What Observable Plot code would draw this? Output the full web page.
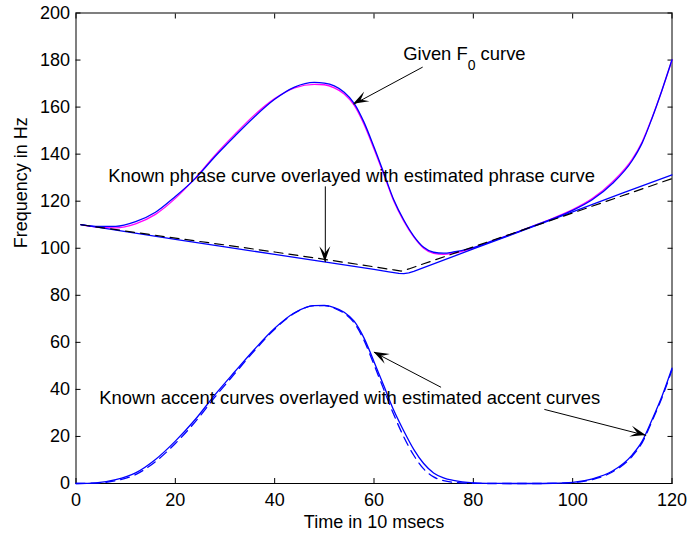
<!DOCTYPE html>
<html>
<head>
<meta charset="utf-8">
<script src="https://cdn.jsdelivr.net/npm/d3@7"></script>
<script src="https://cdn.jsdelivr.net/npm/@observablehq/plot@0.6"></script>
<style>
  html, body { margin: 0; padding: 0; background: #fff; }
</style>
</head>
<body>
<div id="chart"></div>
<script>
// Time axis samples (units of 10 ms)
const f0Time = [1, 4, 8, 12, 16, 20, 24, 28, 32, 36, 40, 44, 48, 50, 52, 54, 56, 58, 60, 62, 64, 66, 68, 70, 72, 74, 76, 80, 84, 88, 92, 96, 100, 104, 108, 112, 114, 116, 118, 120];
const accentTime = [0, 4, 8, 12, 16, 20, 24, 28, 32, 36, 40, 44, 48, 50, 52, 54, 56, 58, 60, 62, 64, 66, 68, 70, 72, 74, 76, 80, 84, 88, 92, 96, 100, 104, 108, 112, 114, 116, 118, 120];

// F0 contours (Hz)
const givenF0 = [110.0, 109.0, 108.7, 110.4, 114.4, 121.2, 129.8, 139.6, 148.5, 156.8, 163.6, 168.2, 169.7, 169.5, 168.2, 165.6, 160.8, 152.6, 142.2, 131.2, 120.0, 111.5, 104.8, 100.0, 97.8, 97.4, 97.9, 100.1, 103.2, 106.2, 109.4, 112.7, 116.4, 121.2, 128.2, 137.9, 145.3, 155.6, 167.3, 180.0];
const estimatedF0 = [110.0, 109.3, 109.3, 111.3, 115.3, 122.0, 129.6, 139.0, 147.7, 156.0, 163.3, 168.5, 170.5, 170.2, 169.0, 166.3, 161.6, 153.5, 143.0, 131.8, 120.5, 112.0, 105.2, 100.4, 98.3, 97.9, 98.4, 100.3, 103.2, 106.2, 109.4, 112.6, 116.1, 120.7, 127.5, 137.3, 144.8, 155.4, 167.3, 180.1];

// Accent components (Hz)
const knownAccent = [0, 0.3, 1.6, 4.5, 10.2, 18.0, 27.2, 37.8, 47.6, 57.2, 66.0, 72.6, 75.6, 75.7, 74.8, 72.8, 69.0, 61.8, 51.8, 41.4, 31.0, 22.3, 14.5, 8.5, 4.5, 2.4, 1.3, 0.3, 0.05, 0, 0, 0.1, 0.5, 2.0, 5.3, 12.2, 18.0, 27.2, 37.2, 49.0];
const estimatedAccent = [0, 0.2, 1.2, 3.8, 9.3, 17.0, 26.2, 36.8, 46.8, 56.6, 65.6, 72.4, 75.6, 75.6, 74.5, 72.3, 68.3, 60.8, 50.5, 39.8, 29.2, 19.8, 12.0, 6.2, 2.8, 1.2, 0.5, 0.1, 0, 0, 0, 0.05, 0.4, 1.7, 4.9, 11.6, 17.4, 26.6, 36.6, 48.3];

// Phrase components (Hz)
const knownPhraseTime = [1, 10, 20, 30, 40, 50, 60, 63, 65, 66, 67, 68, 70, 80, 90, 100, 110, 120];
const knownPhrase = [110.0, 107.1, 103.8, 100.6, 97.4, 94.2, 91.0, 90.0, 89.35, 89.2, 89.5, 90.2, 91.8, 99.7, 107.6, 115.5, 123.4, 131.2];
const estPhraseTime = [1, 10, 20, 30, 40, 50, 60, 64, 65.5, 67, 70, 80, 90, 100, 110, 120];
const estimatedPhrase = [110.0, 107.3, 104.3, 101.4, 98.4, 95.3, 92.1, 90.8, 90.3, 91.2, 93.4, 100.6, 107.8, 115.0, 122.3, 129.6];

// Axis ticks
const xTicks = [0, 20, 40, 60, 80, 100, 120];
const yTicks = [0, 20, 40, 60, 80, 100, 120, 140, 160, 180, 200];

// Annotations
const noteText = ["Given F0 curve", "Known phrase curve overlayed with estimated phrase curve", "Known accent curves overlayed with estimated accent curves"];
const noteX = [65.9, 6.5, 4.7];
const noteY = [182.65, 130.65, 36.4];

// Arrows: tail (x1, y1) -> tip (x2, y2)
const arrowX1 = [69.8, 50.2, 73.5, 94.3];
const arrowY1 = [177.0, 126.3, 40.9, 31.5];
const arrowX2 = [55.9, 50.2, 60.0, 114.8];
const arrowY2 = [161.2, 94.1, 55.8, 20.4];

const series = (xs, ys) => xs.map((x, i) => ({x, y: ys[i]}));

const lineOpts = {x: "x", y: "y", strokeWidth: 1.3, curve: "monotone-x"};

const chart = Plot.plot({
  width: 690,
  height: 534,
  marginLeft: 75.5,
  marginRight: 18.5,
  marginTop: 12.5,
  marginBottom: 51,
  style: {
    fontFamily: "'Liberation Sans', Arial, Helvetica, sans-serif",
    fontSize: "18px",
    background: "white",
    color: "black",
    overflow: "visible"
  },
  x: {domain: [0, 120]},
  y: {domain: [0, 200]},
  marks: [
    Plot.frame({stroke: "black", strokeWidth: 1}),
    Plot.axisX(xTicks, {anchor: "bottom", tickSize: -5, tickPadding: 15, label: null}),
    Plot.axisX(xTicks, {anchor: "top", tickSize: -5, fill: "none", label: null}),
    Plot.axisY(yTicks, {anchor: "left", tickSize: -5, tickPadding: 11, label: null}),
    Plot.axisY(yTicks, {anchor: "right", tickSize: -5, fill: "none", label: null}),

    Plot.line(series(f0Time, givenF0), {...lineOpts, stroke: "#ff00ff"}),
    Plot.line(series(f0Time, estimatedF0), {...lineOpts, stroke: "#0000ff"}),

    Plot.line(series(knownPhraseTime, knownPhrase), {x: "x", y: "y", stroke: "#0000ff", strokeWidth: 1.3}),
    Plot.line(series(estPhraseTime, estimatedPhrase), {x: "x", y: "y", stroke: "black", strokeWidth: 1.2, strokeDasharray: "9,6"}),

    Plot.line(series(accentTime, knownAccent), {...lineOpts, stroke: "#0000ff"}),
    Plot.line(series(accentTime, estimatedAccent), {...lineOpts, stroke: "#0000ff", strokeDasharray: "9,6"}),

    Plot.link(arrowX1, {
      x1: d => d,
      y1: (d, i) => arrowY1[i],
      x2: (d, i) => arrowX2[i],
      y2: (d, i) => arrowY2[i],
      stroke: "black",
      strokeWidth: 1
    }),

    Plot.text(noteText, {
      x: (d, i) => noteX[i],
      y: (d, i) => noteY[i],
      text: d => d,
      textAnchor: "start",
      lineAnchor: "middle",
      fontSize: 18.4,
      fill: "black"
    }),

    Plot.text(["Time in 10 msecs"], {text: d => d, frameAnchor: "bottom", dy: 38.7, lineAnchor: "middle", fill: "black"}),
    Plot.text(["Frequency in Hz"], {text: d => d, frameAnchor: "left", rotate: -90, dx: -54.8, lineAnchor: "middle", fill: "black"})
  ]
});

document.getElementById("chart").appendChild(chart);

// Subscript for F0 in the annotation
d3.select(chart).selectAll("text")
  .filter(function () { return this.textContent === "Given F0 curve"; })
  .each(function () {
    const t = d3.select(this);
    t.text("Given F");
    t.append("tspan").attr("font-size", "14px").attr("dy", "10").text("0");
    t.append("tspan").attr("dy", "-10").text(" curve");
  });

// Filled arrowheads placed through the plot's scales
const sx = chart.scale("x"), sy = chart.scale("y");
const headPath = "M0,0 L-15.5,-5.5 Q-11,-1.5 -8.5,0 Q-11,1.5 -15.5,5.5 Z";
const heads = d3.select(chart).append("g").attr("fill", "black").attr("stroke", "none");
arrowX2.forEach((x2, i) => {
  const px = sx.apply(x2), py = sy.apply(arrowY2[i]);
  const qx = sx.apply(arrowX1[i]), qy = sy.apply(arrowY1[i]);
  const ang = Math.atan2(py - qy, px - qx) * 180 / Math.PI;
  heads.append("path")
    .attr("d", headPath)
    .attr("transform", `translate(${px},${py}) rotate(${ang})`);
});
</script>
</body>
</html>
